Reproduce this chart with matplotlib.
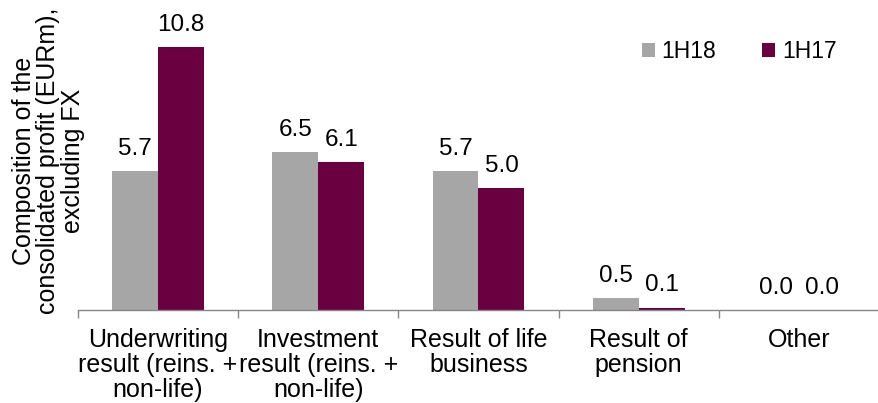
import numpy as np
import matplotlib
matplotlib.use("Agg")
import matplotlib.pyplot as plt

plt.rcParams['font.family'] = ['Liberation Sans', 'DejaVu Sans']

categories = ["Underwriting\nresult (reins. +\nnon-life)",
              "Investment\nresult (reins. +\nnon-life)",
              "Result of life\nbusiness",
              "Result of\npension",
              "Other"]
series_names = ["1H18", "1H17"]
values_1h18 = [5.7, 6.5, 5.7, 0.5, 0.0]
values_1h17 = [10.8, 6.1, 5.0, 0.1, 0.0]
colors = ["#A6A6A6", "#6B0040"]

fig = plt.figure(figsize=(8.79, 4.03), dpi=100)
ax = fig.add_axes([0.0887, 0.2308, 0.9113, 0.7242])

x = np.arange(len(categories))
w = 0.287
for vals, off, col, name in [(values_1h18, -w / 2, colors[0], series_names[0]),
                             (values_1h17, w / 2, colors[1], series_names[1])]:
    bars = ax.bar(x + off, vals, width=w, color=col, label=name)
    for b, v in zip(bars, vals):
        ax.annotate(f"{v:.1f}", (b.get_x() + b.get_width() / 2, v),
                    xytext=(0, 8), textcoords="offset points",
                    ha="center", va="bottom", fontsize=17.5, color="black")

ax.set_xlim(-0.5, len(categories) - 0.5)
ax.set_ylim(0, 12)
ax.set_yticks([])
for s in ["top", "right", "left"]:
    ax.spines[s].set_visible(False)
ax.spines["bottom"].set_color("#868686")
ax.spines["bottom"].set_linewidth(1.0)

ax.set_xticks(x)
ax.set_xticklabels(categories, fontsize=18, linespacing=1.04)
ax.tick_params(axis="x", which="major", length=0, pad=13)
ax.set_xticks(np.arange(len(categories) + 1) - 0.5, minor=True)
ax.tick_params(axis="x", which="minor", length=6, color="#868686", width=1.0)

fig.text(0.055, 0.6, "Composition of the\nconsolidated profit (EURm),\nexcluding FX",
         rotation=90, ha="center", va="center", fontsize=18, linespacing=1.04)

ax.legend(loc="center right", bbox_to_anchor=(0.975, 0.871),
          bbox_transform=fig.transFigure, ncol=2, frameon=False,
          fontsize=16.5, handlelength=0.55, handleheight=0.55, handletextpad=0.3,
          columnspacing=2.0)

fig.savefig("out.png", dpi=100)
